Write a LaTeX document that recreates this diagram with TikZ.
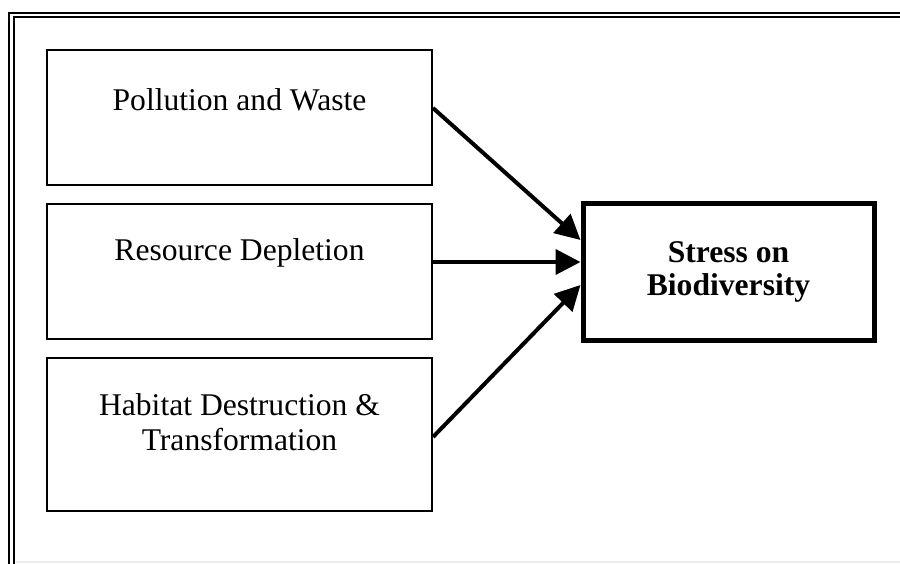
\documentclass[tikz,border=0pt]{standalone}
\usepackage{fontspec}
\setmainfont{Liberation Serif}
\usepackage{tikz}
\usetikzlibrary{arrows.meta}

\begin{document}
\begin{tikzpicture}[x=0.5pt, y=-0.5pt]
				% Styles
				\tikzstyle{cause} = [draw, line width=1pt, rectangle, minimum width=192.5pt, minimum height=67.5pt, inner sep=0pt]
				\tikzstyle{causetext} = [align=center, font=\fontsize{15.8}{17.5}\selectfont, inner sep=0pt]
				\tikzstyle{effect} = [draw, line width=2.5pt, rectangle, minimum width=145.5pt, minimum height=68.5pt, align=center, font=\fontsize{15.8}{16.5}\selectfont\bfseries]
				\tikzstyle{arrow} = [line width=2pt, -{Triangle[length=12.5pt, width=12.5pt]}]

				\useasboundingbox (0,0) rectangle (900,563);

				% Frame (double line, runs off the page at right and bottom)
				\begin{scope}
					\clip (0,0) rectangle (900,563);
					\draw [line width=1pt] (9,12.5) rectangle (920,590);
					\draw [line width=1pt] (14,17) rectangle (915,585);
					\draw [gray!15, line width=0.75pt] (16,562) -- (900,562);
				\end{scope}

				% Nodes with absolute coordinates
				\node (pollution) [cause] at (239.5, 117.5) {};
				\node (depletion) [cause] at (239.5, 271.5) {};
				\node (habitat) [cause, minimum height=76.5pt] at (239.5, 434.5) {};
				\node (stress) [effect] at (728.5, 271.5) {Stress on \\ Biodiversity};

				\node (pollutiontext) [causetext] at ([yshift=8.75pt]pollution.center) {Pollution and Waste};
				\node (depletiontext) [causetext] at ([yshift=9.25pt]depletion.center) {Resource Depletion};
				\node (habitattext) [causetext] at ([yshift=6pt]habitat.center) {Habitat Destruction \& \\ Transformation};

				% Connections
				\draw [arrow] ([yshift=4.75pt]pollution.east) -- ([yshift=15.75pt]stress.west);
				\draw [arrow] ([yshift=4.75pt]depletion.east) -- ([yshift=4.75pt]stress.west);
				\draw [arrow] ([yshift=-1.25pt]habitat.east) -- ([yshift=-6.75pt]stress.west);

			\end{tikzpicture}
\end{document}
